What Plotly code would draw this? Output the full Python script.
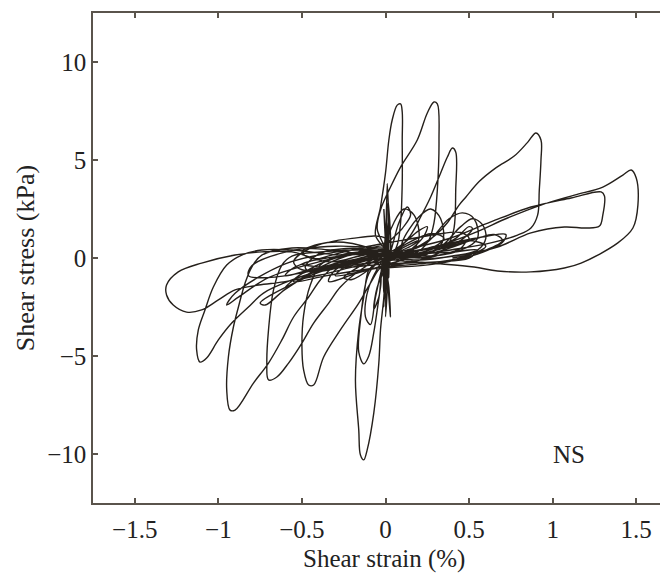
import plotly.graph_objects as go

# ---- data: hysteresis path segments (shear strain %, shear stress kPa) ----
c1_strain = [0.00, 0.12, 0.28, 0.35, 0.22, 0.02, -0.18, -0.34, -0.30, -0.12, 0.00]
c1_stress = [0.00, 0.70, 1.25, 1.00, 0.25, -0.30, -0.80, -1.20, -0.60, 0.05, 0.30]

s1_strain = [-0.06, -0.03, 0.00, 0.02, 0.04, 0.07, 0.09, 0.10, 0.10, 0.10, 0.09, 0.07, 0.03]
s1_stress = [1.17, 2.60, 4.34, 6.02, 7.04, 7.80, 7.86, 7.45, 6.02, 3.83, 1.79, 0.66, 0.10]

c11_strain = [0.00, -0.20, -0.45, -0.55, -0.50, -0.30, 0.00]
c11_stress = [1.00, 1.00, 0.50, -0.20, -0.60, -0.40, 0.20]

d1_strain = [0.00, -0.15, -0.25, -0.20, -0.05, 0.10, 0.20, 0.15, 0.00]
d1_stress = [0.20, -0.40, -1.00, -1.10, -0.30, 0.50, 0.90, 0.60, 0.00]

n1_strain = [0.00, -0.06, -0.10, -0.13, -0.16, -0.18, -0.16, -0.15, -0.13, -0.11, -0.07, -0.04, -0.03, -0.01, 0.00, 0.02]
n1_stress = [-0.10, -0.30, -0.61, -1.99, -3.67, -6.22, -8.78, -10.05, -10.30, -9.80, -7.90, -5.36, -3.67, -1.99, -0.61, 0.20]

e1_strain = [0.00, 0.02, 0.03, 0.02, 0.00, -0.01, 0.00, 0.01]
e1_stress = [0.00, -1.50, -3.00, -2.00, 0.80, 2.50, 1.00, -1.00]

h1_strain = [0.00, 0.05, 0.11, 0.17, 0.20, 0.15, 0.05]
h1_stress = [0.50, 1.80, 2.50, 2.20, 1.00, 0.30, 0.00]

d2_strain = [0.00, 0.20, 0.40, 0.48, 0.45, 0.30, 0.10, -0.10, -0.30, -0.25, 0.00]
d2_stress = [0.00, 0.40, 0.70, 0.90, 0.50, 0.10, -0.30, -0.60, -0.90, -0.50, 0.10]

s2_strain = [-0.05, -0.03, 0.03, 0.09, 0.19, 0.25, 0.29, 0.31, 0.32, 0.31, 0.29, 0.26, 0.21, 0.12]
s2_stress = [1.50, 2.45, 3.62, 4.64, 6.02, 7.40, 7.96, 7.86, 6.02, 3.47, 1.79, 0.92, 0.41, 0.10]

c7_strain = [-0.10, -0.30, -0.50, -0.60, -0.55, -0.40, -0.20, 0.00]
c7_stress = [0.30, 0.00, -0.80, -1.50, -1.30, -0.50, 0.20, 0.60]

l3_strain = [0.00, -0.33, -0.56, -0.74, -0.80, -0.84, -0.88, -0.91, -0.94, -0.95, -0.93, -0.90, -0.79, -0.70, -0.62, -0.55, -0.46, -0.39, -0.31, -0.15, 0.00]
l3_stress = [0.20, 0.41, 0.51, 0.15, -0.46, -1.28, -2.50, -3.52, -5.05, -6.73, -7.76, -7.76, -6.38, -5.36, -4.18, -3.01, -1.99, -1.12, -0.46, 0.00, 0.30]

d3_strain = [0.00, -0.20, -0.40, -0.48, -0.42, -0.20, 0.05, 0.20, 0.25, 0.22, 0.10]
d3_stress = [0.30, 0.50, 0.20, -0.50, -0.70, -0.30, 0.40, 1.40, 1.60, 1.00, 0.20]

h2_strain = [0.10, 0.20, 0.27, 0.33, 0.34, 0.25, 0.10]
h2_stress = [0.80, 2.10, 2.50, 2.00, 0.80, 0.20, 0.00]

e2_strain = [0.00, -0.20, -0.45, -0.60, -0.55, -0.30, -0.10, 0.10, 0.30, 0.45, 0.50, 0.35, 0.10]
e2_stress = [0.20, -0.10, -0.60, -0.90, -0.50, 0.20, 0.60, 0.90, 1.20, 1.30, 1.00, 0.50, 0.10]

r3_strain = [0.10, 0.21, 0.30, 0.37, 0.44, 0.48, 0.56, 0.66, 0.77, 0.85, 0.90, 0.93, 0.93, 0.92, 0.91, 0.87, 0.79, 0.63, 0.39, 0.15, 0.00]
r3_stress = [0.20, 0.66, 1.17, 1.80, 2.70, 3.10, 3.90, 4.60, 5.20, 5.90, 6.38, 6.02, 5.00, 3.47, 2.19, 1.53, 1.17, 0.77, 0.41, 0.10, -0.20]

d4_strain = [0.00, 0.02, 0.03, -0.01, 0.00, 0.02, 0.01]
d4_stress = [-0.50, 2.00, 0.20, -1.80, 1.20, -1.00, 0.50]

c10_strain = [0.00, -0.30, -0.60, -0.80, -0.82, -0.70, -0.40, -0.10]
c10_stress = [0.50, 0.60, 0.30, -0.40, -0.90, -1.00, -0.60, -0.10]

l2_strain = [-0.05, -0.27, -0.56, -0.74, -0.86, -0.95, -1.03, -1.08, -1.12, -1.13, -1.11, -1.07, -1.00, -0.92, -0.82, -0.73, -0.56, -0.33, -0.09]
l2_stress = [0.20, 0.15, 0.41, 0.41, 0.15, -0.36, -1.48, -2.65, -3.67, -4.69, -5.31, -5.10, -4.18, -3.32, -2.50, -1.79, -1.12, -0.51, -0.10]

d5_strain = [0.00, 0.15, 0.35, 0.50, 0.60, 0.45, 0.20, -0.05, -0.35, -0.55, -0.50, -0.20, 0.00]
d5_stress = [0.00, 0.30, 0.60, 0.90, 0.60, 0.00, -0.30, -0.50, -0.90, -1.20, -0.80, -0.20, 0.20]

c8_strain = [-0.20, -0.45, -0.75, -0.72, -0.60, -0.40, -0.10]
c8_stress = [-0.20, -0.90, -2.30, -2.40, -1.60, -0.60, 0.20]

s3_strain = [0.05, 0.15, 0.21, 0.27, 0.33, 0.37, 0.40, 0.42, 0.42, 0.41, 0.38, 0.33, 0.20]
s3_stress = [0.30, 1.17, 2.09, 3.11, 4.34, 5.15, 5.61, 5.41, 3.47, 1.53, 0.77, 0.31, 0.00]

d6_strain = [0.00, 0.10, 0.15, 0.13, 0.08, 0.04, 0.00, -0.05, -0.07, -0.04, 0.00]
d6_stress = [0.50, 1.50, 2.20, 2.60, 1.80, 0.60, -0.50, -1.50, -2.60, -2.00, -0.30]

h3_strain = [0.25, 0.38, 0.46, 0.53, 0.55, 0.45, 0.25]
h3_stress = [0.80, 2.00, 2.30, 2.00, 1.00, 0.40, 0.10]

l4_strain = [0.00, -0.39, -0.56, -0.62, -0.67, -0.70, -0.71, -0.70, -0.65, -0.58, -0.50, -0.43, -0.34, -0.27, -0.15, 0.00]
l4_stress = [0.40, 0.31, 0.10, -0.36, -1.63, -3.67, -5.36, -6.22, -6.07, -5.36, -4.34, -3.32, -2.30, -1.48, -0.61, 0.10]

v1_strain = [0.00, 0.01, 0.02, 0.00, 0.01, -0.01, 0.02, 0.00, 0.01, 0.03, 0.00]
v1_stress = [0.00, 3.80, 0.50, -3.00, 2.80, -2.50, 1.50, -2.00, 3.20, 0.00, -1.00]

d7_strain = [0.00, -0.10, -0.12, -0.09, -0.06, -0.02]
d7_stress = [0.00, -1.50, -3.00, -3.40, -2.00, -0.50]

r2_strain = [0.00, 0.09, 0.39, 0.63, 0.87, 1.11, 1.29, 1.31, 1.30, 1.28, 1.20, 1.07, 0.87, 0.67, 0.45, 0.21, 0.00]
r2_stress = [0.00, 0.31, 1.02, 1.84, 2.60, 3.06, 3.37, 3.16, 2.19, 1.63, 1.53, 1.58, 1.28, 0.56, 0.15, -0.10, -0.30]

d8_strain = [-0.05, -0.25, -0.40, -0.50, -0.45, -0.25, 0.00]
d8_stress = [0.30, 0.80, 0.70, 0.30, 0.00, 0.10, 0.50]

c9_strain = [-0.30, -0.60, -0.90, -0.95, -0.88, -0.70, -0.40, -0.10]
c9_stress = [0.30, -0.30, -1.80, -2.40, -2.00, -1.00, -0.20, 0.30]

l1_strain = [-0.33, -0.56, -0.74, -0.90, -1.10, -1.24, -1.31, -1.31, -1.27, -1.19, -1.10, -1.00, -0.90, -0.76, -0.61, -0.39, -0.15]
l1_stress = [-0.20, 0.31, 0.31, 0.15, -0.26, -0.71, -1.38, -1.89, -2.40, -2.76, -2.65, -2.14, -1.63, -1.38, -1.22, -0.87, -0.36]

h4_strain = [0.30, 0.45, 0.52, 0.58, 0.60, 0.55, 0.40, 0.20]
h4_stress = [0.40, 1.60, 2.00, 1.70, 1.00, 0.40, 0.10, -0.10]

d9_strain = [0.10, 0.30, 0.45, 0.52, 0.50, 0.42, 0.30, 0.10]
d9_stress = [0.00, 0.40, 0.90, 1.50, 1.60, 1.00, 0.50, 0.10]

r1_strain = [0.06, 0.33, 0.53, 0.73, 0.93, 1.13, 1.30, 1.42, 1.47, 1.50, 1.51, 1.48, 1.39, 1.17, 1.07, 0.87, 0.67, 0.53, 0.27, 0.06]
r1_stress = [0.15, 0.66, 1.28, 2.04, 2.70, 3.21, 3.62, 4.23, 4.49, 4.08, 2.70, 1.53, 0.77, -0.26, -0.51, -0.71, -0.66, -0.46, -0.26, -0.10]

e3_strain = [0.00, 0.20, 0.40, 0.55, 0.50, 0.30, 0.00, -0.30, -0.50, -0.35, 0.00]
e3_stress = [0.00, 0.20, 0.30, 0.40, 0.00, -0.20, -0.30, -0.50, -0.30, 0.00, 0.40]

l5_strain = [-0.27, -0.39, -0.45, -0.49, -0.50, -0.49, -0.46, -0.43, -0.37, -0.27, -0.16, -0.09, -0.03]
l5_stress = [0.15, -0.36, -1.38, -2.91, -4.54, -5.71, -6.48, -6.48, -5.05, -3.67, -2.30, -1.28, -0.51]

c12_strain = [0.00, 0.30, 0.55, 0.70, 0.72, 0.60, 0.30, 0.00]
c12_stress = [-0.50, -0.30, 0.20, 0.80, 1.20, 1.10, 0.60, 0.00]

n2_strain = [0.00, -0.10, -0.15, -0.16, -0.13, -0.10, -0.07, -0.03, 0.00]
n2_stress = [0.20, -0.80, -3.20, -4.80, -5.40, -5.00, -3.80, -1.50, 0.00]

h5_strain = [0.30, 0.55, 0.65, 0.70, 0.60, 0.40]
h5_stress = [0.30, 1.00, 1.20, 0.90, 0.40, 0.00]

x_ticks = [-1.5, -1, -0.5, 0, 0.5, 1, 1.5]
x_ticktext = ["\u22121.5", "\u22121", "\u22120.5", "0", "0.5", "1", "1.5"]
y_ticks = [-10, -5, 0, 5, 10]
y_ticktext = ["\u221210", "\u22125", "0", "5", "10"]

segments = [
    (c1_strain, c1_stress), (s1_strain, s1_stress), (c11_strain, c11_stress),
    (d1_strain, d1_stress), (n1_strain, n1_stress), (e1_strain, e1_stress),
    (h1_strain, h1_stress), (d2_strain, d2_stress), (s2_strain, s2_stress),
    (c7_strain, c7_stress), (l3_strain, l3_stress), (d3_strain, d3_stress),
    (h2_strain, h2_stress), (e2_strain, e2_stress), (r3_strain, r3_stress),
    (d4_strain, d4_stress), (c10_strain, c10_stress), (l2_strain, l2_stress),
    (d5_strain, d5_stress), (c8_strain, c8_stress), (s3_strain, s3_stress),
    (d6_strain, d6_stress), (h3_strain, h3_stress), (l4_strain, l4_stress),
    (v1_strain, v1_stress), (d7_strain, d7_stress), (r2_strain, r2_stress),
    (d8_strain, d8_stress), (c9_strain, c9_stress), (l1_strain, l1_stress),
    (h4_strain, h4_stress), (d9_strain, d9_stress), (r1_strain, r1_stress),
    (e3_strain, e3_stress), (l5_strain, l5_stress), (c12_strain, c12_stress),
    (n2_strain, n2_stress), (h5_strain, h5_stress),
]

xs, ys = [], []
for sx, sy in segments:
    xs.extend(sx)
    ys.extend(sy)

axis_color = "#5a544c"
text_color = "#222222"
fig = go.Figure()
fig.add_trace(go.Scatter(
    x=xs, y=ys, mode="lines",
    line=dict(color="#25201b", width=1.4, shape="spline", smoothing=1.0),
    hoverinfo="skip", showlegend=False,
))

fig.add_annotation(x=1.095, y=-10.05, xref="x", yref="y", text="NS",
                   showarrow=False, font=dict(size=25, color=text_color))
fig.add_annotation(x=0.506, y=-0.115, xref="paper", yref="paper",
                   text="Shear strain (%)", showarrow=False,
                   xanchor="center", yanchor="middle",
                   font=dict(size=25, color=text_color))
fig.add_annotation(x=-0.118, y=0.5, xref="paper", yref="paper",
                   text="Shear stress (kPa)", showarrow=False, textangle=-90,
                   xanchor="center", yanchor="middle",
                   font=dict(size=26, color=text_color))

# the page adds an 8 px body margin, so the figure is sized to fit the window
fig.update_layout(
    width=660, height=568,
    margin=dict(l=85, r=0, t=5, b=73),
    paper_bgcolor="white", plot_bgcolor="white",
    font=dict(family="Liberation Serif", size=25, color=text_color),
    xaxis=dict(
        range=[-1.75, 1.69], tickvals=x_ticks, ticktext=x_ticktext,
        ticks="inside", ticklen=5, tickwidth=1.5, tickcolor=axis_color,
        showline=True, linecolor=axis_color, linewidth=1.5, mirror="ticks",
        showgrid=False, zeroline=False, automargin=False,
        tickfont=dict(size=25, color=text_color), ticklabelstandoff=3,
    ),
    yaxis=dict(
        range=[-12.5, 12.5], tickvals=y_ticks, ticktext=y_ticktext,
        ticks="inside", ticklen=5, tickwidth=1.5, tickcolor=axis_color,
        showline=True, linecolor=axis_color, linewidth=1.5, mirror=False,
        showgrid=False, zeroline=False, automargin=False,
        tickfont=dict(size=25, color=text_color),
    ),
)

fig.write_html("out.html")
